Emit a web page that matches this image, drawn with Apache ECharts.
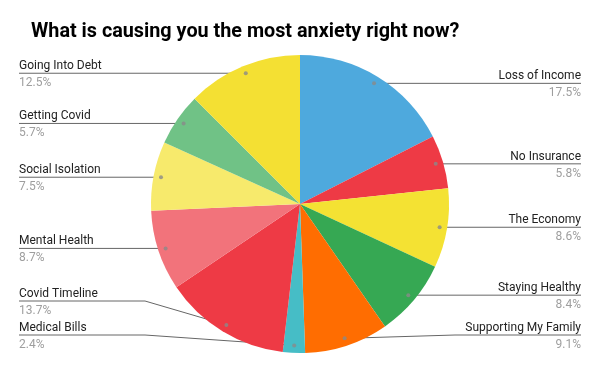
<!DOCTYPE html>
<html><head><meta charset="utf-8">
<script src="https://cdn.jsdelivr.net/npm/echarts@6/dist/echarts.min.js"></script>
<style>html,body{margin:0;padding:0;background:#fff}#c{width:600px;height:371px}</style>
</head><body><div id="c"></div>
<script>
const titleText = 'What is causing you the most anxiety right now?';
const categories = ['Loss of Income','No Insurance','The Economy','Staying Healthy','Supporting My Family','Medical Bills','Covid Timeline','Mental Health','Social Isolation','Getting Covid','Going Into Debt'];
const values = [17.5,5.8,8.6,8.4,9.1,2.4,13.7,8.7,7.5,5.7,12.5];
const colors = ['#4EA9DD','#EE3A45','#F4E233','#36A853','#FF6D01','#46BDC6','#EE3A45','#F2737B','#F7EA6C','#70C286','#F4E033'];

const chart = echarts.init(document.getElementById('c'), null, {renderer:'canvas'});
const total = values.reduce((a,b)=>a+b,0);
const mids = []; let acc = 0;
values.forEach(v => { mids.push(acc + v/2); acc += v; });
const R = 149, CX = 300, CY = 204, DOT = 0.95;
const NAME_LH = 20, PCT_LH = 14, LABEL_H = NAME_LH + PCT_LH;
const PIE_BOTTOM = 19, VIEW_H = 371;

// anchor points inside each slice and label rows (minimal push, like the original)
const anchors = mids.map(m => {
  const a = m/total*2*Math.PI;
  return {dx:Math.sin(a), x:CX + R*DOT*Math.sin(a), y:CY - R*DOT*Math.cos(a)};
});
const labelY = anchors.map(p => p.y);
[true,false].forEach(isLeft => {
  const idx = anchors.map((p,i)=>i).filter(i => (anchors[i].dx < 0) === isLeft)
    .sort((a,b)=>anchors[a].y - anchors[b].y);
  const maxY = VIEW_H - PIE_BOTTOM - LABEL_H/2, minY = LABEL_H/2;
  let prev = Infinity;
  for (let k = idx.length-1; k >= 0; k--) {
    const i = idx[k];
    labelY[i] = Math.min(labelY[i], maxY, prev - LABEL_H);
    prev = labelY[i];
  }
  prev = -Infinity;
  for (let k = 0; k < idx.length; k++) {
    const i = idx[k];
    labelY[i] = Math.max(labelY[i], minY, prev + LABEL_H);
    prev = labelY[i];
  }
});

function labelLayout(params){
  const rect = params.labelRect;
  if (!rect) return {};
  const i = params.dataIndex;
  const p = anchors[i];
  const left = p.dx < 0;
  const ly = labelY[i];
  const p0 = [p.x, p.y];
  const p1 = [CX + (left?-1:1)*(R+6), ly];
  const p2 = [left ? rect.x : rect.x + rect.width, ly];
  return {y: ly, labelLinePoints:[p0,p1,p2]};
}

chart.setOption({
  animation:false,
  title:{text:titleText,left:26,top:17,textStyle:{fontFamily:'Roboto',fontWeight:'bold',fontSize:19.8,color:'#000'}},
  polar:{center:[CX,CY],radius:R},
  angleAxis:{type:'value',min:0,max:total,startAngle:90,clockwise:true,show:false},
  radiusAxis:{type:'value',min:0,max:1,show:false},
  series:[{
    type:'pie',
    top:0,bottom:PIE_BOTTOM,
    center:[CX,CY],
    radius:R,
    startAngle:90,
    clockwise:true,
    color:colors,
    data:categories.map((n,i)=>({name:n,value:values[i]})),
    itemStyle:{borderWidth:0},
    emphasis:{disabled:true},
    label:{show:true,alignTo:'edge',edgeDistance:19,
      formatter:p=>'{n|'+p.name+'}\n{p|'+p.value+'%}',
      rich:{n:{fontFamily:'Roboto',fontSize:12,color:'#222',lineHeight:NAME_LH},
            p:{fontFamily:'Roboto',fontSize:12,color:'#9e9e9e',lineHeight:PCT_LH}}},
    labelLine:{show:true,length:-7,length2:0,smooth:false,lineStyle:{color:'#666',width:1}},
    labelLayout:labelLayout
  },{
    type:'scatter',coordinateSystem:'polar',silent:true,z:5,
    data:mids.map(m=>[DOT,m]),symbolSize:4,itemStyle:{color:'#8a8a8a'}
  }]
});
</script></body></html>
